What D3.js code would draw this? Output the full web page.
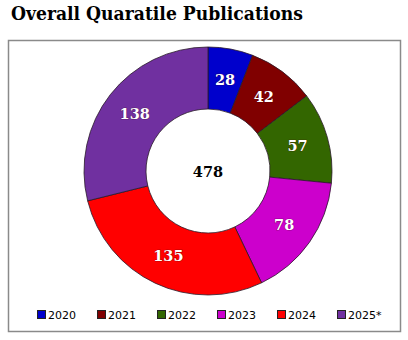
<!DOCTYPE html>
<html>
<head>
<meta charset="utf-8">
<script src="https://cdn.jsdelivr.net/npm/d3@7"></script>
<style>
  html, body { margin: 0; padding: 0; background: #fff; }
  svg { display: block; }
</style>
</head>
<body>
<svg id="chart" width="408" height="340"></svg>
<script>
// Publication counts per year
const years = ["2020", "2021", "2022", "2023", "2024", "2025*"];
const counts = [28, 42, 57, 78, 135, 138];
const colors = ["#0000CC", "#800000", "#336600", "#CC00CC", "#FF0000", "#7030A0"];
const titleText = "Overall Quaratile Publications";

const svg = d3.select("#chart");

// Title
svg.append("text")
  .attr("x", 11).attr("y", 20)
  .attr("font-family", "'DejaVu Serif', serif")
  .attr("font-weight", "bold")
  .attr("font-size", 19)
  .attr("textLength", 292)
  .attr("lengthAdjust", "spacingAndGlyphs")
  .attr("fill", "#000")
  .text(titleText);

// Chart frame
svg.append("rect")
  .attr("x", 8.5).attr("y", 40.5)
  .attr("width", 392).attr("height", 291)
  .attr("fill", "#fff")
  .attr("stroke", "#8a8a8a")
  .attr("stroke-width", 1.5);

const cx = 208, cy = 171;
const outerR = 124, innerR = 62;

const color = d3.scaleOrdinal().domain(years).range(colors);
const pie = d3.pie().sort(null).value(d => d.value);
const data = years.map((y, i) => ({ year: y, value: counts[i] }));
const arcs = pie(data);
const arc = d3.arc().innerRadius(innerR).outerRadius(outerR);

const g = svg.append("g").attr("transform", `translate(${cx},${cy})`);

g.selectAll("path.slice")
  .data(arcs)
  .join("path")
  .attr("class", "slice")
  .attr("d", arc)
  .attr("fill", d => color(d.data.year))
  .attr("stroke", "#2a1a2a")
  .attr("stroke-width", 0.8);

// Value labels at slice centroids
g.selectAll("text.val")
  .data(arcs)
  .join("text")
  .attr("class", "val")
  .attr("x", d => arc.centroid(d)[0])
  .attr("y", d => arc.centroid(d)[1])
  .attr("text-anchor", "middle")
  .attr("dominant-baseline", "central")
  .attr("font-family", "'DejaVu Serif', serif")
  .attr("font-weight", "bold")
  .attr("font-size", 14.5)
  .attr("fill", "#fff")
  .attr("stroke", "rgba(60,0,0,0.35)")
  .attr("stroke-width", 1.2)
  .attr("paint-order", "stroke")
  .text(d => d.data.value);

// Total in the center
g.append("text")
  .attr("x", 0).attr("y", 0)
  .attr("text-anchor", "middle")
  .attr("dominant-baseline", "central")
  .attr("font-family", "'DejaVu Serif', serif")
  .attr("font-weight", "bold")
  .attr("font-size", 14.5)
  .attr("fill", "#000")
  .text(d3.sum(counts));

// Legend
const legendX = d3.scalePoint().domain(years).range([37, 337]);
const lg = svg.append("g").selectAll("g.item")
  .data(years)
  .join("g")
  .attr("class", "item")
  .attr("transform", d => `translate(${legendX(d)},315)`);

lg.append("rect")
  .attr("x", 0.5).attr("y", -4.5)
  .attr("width", 8).attr("height", 8)
  .attr("fill", d => color(d))
  .attr("stroke", "#222")
  .attr("stroke-width", 1);

lg.append("text")
  .attr("x", 11).attr("y", 0)
  .attr("dominant-baseline", "central")
  .attr("font-family", "'DejaVu Sans', sans-serif")
  .attr("font-size", 11)
  .attr("fill", "#000")
  .text(d => d);
</script>
</body>
</html>
